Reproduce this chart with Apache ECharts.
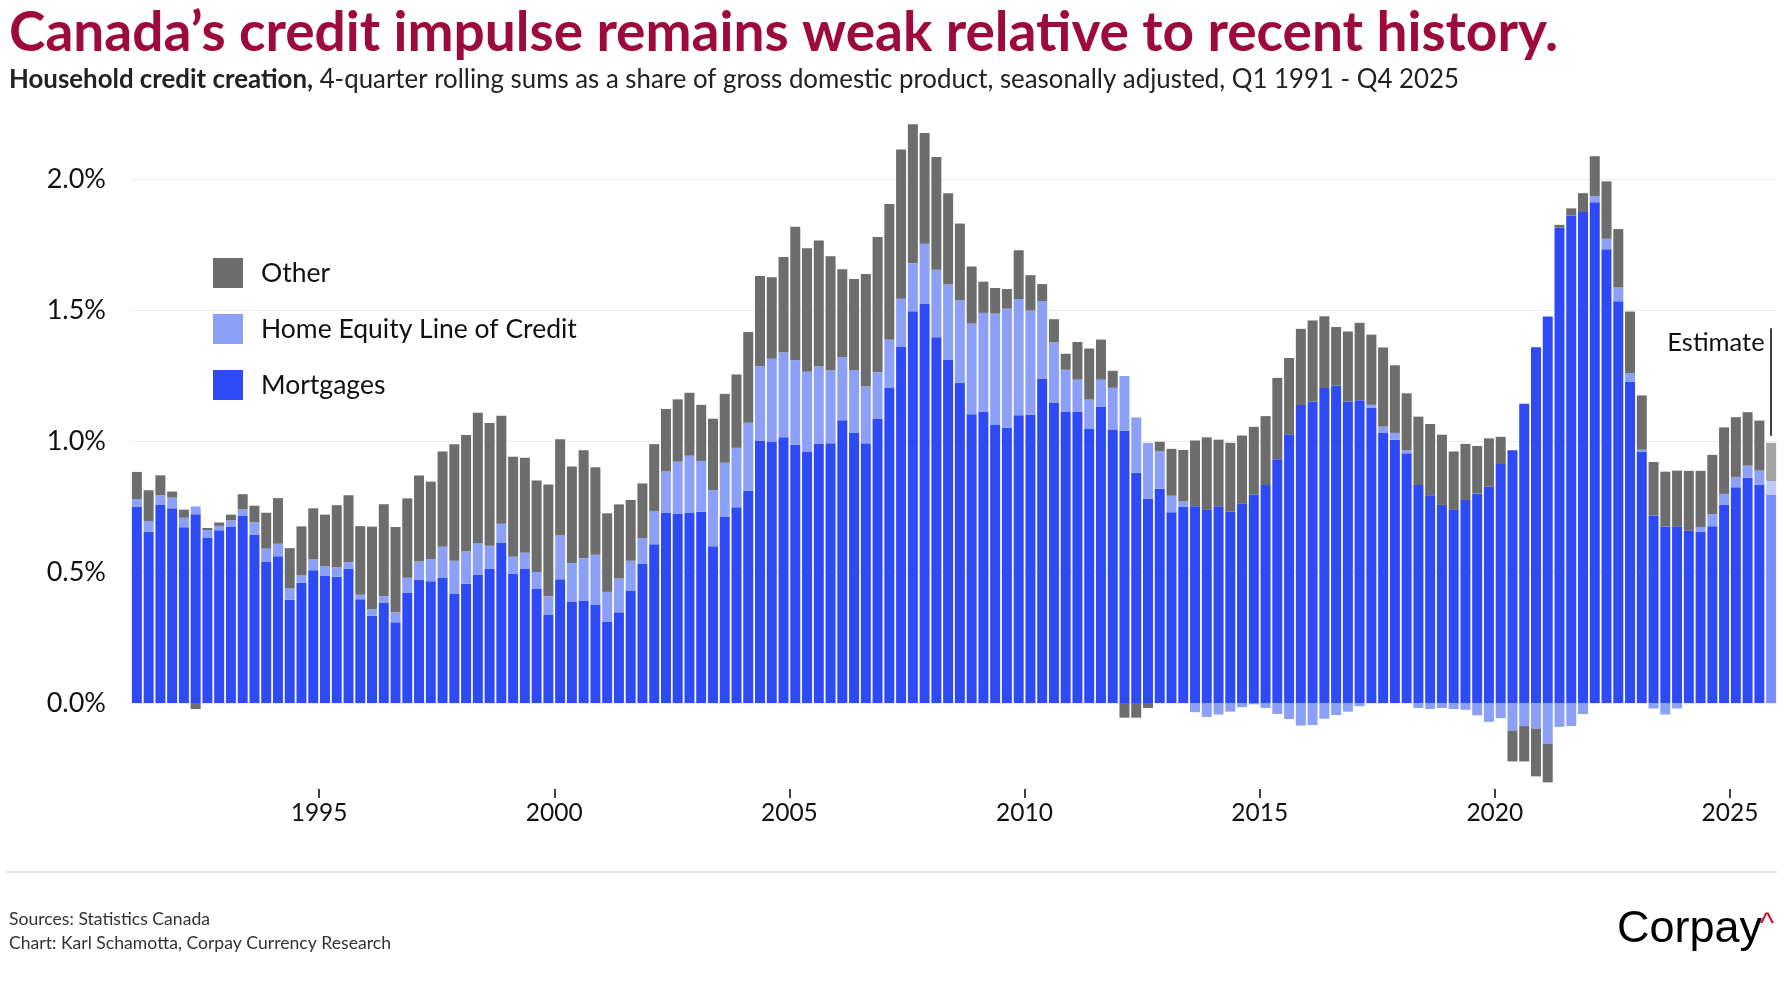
<!DOCTYPE html>
<html><head><meta charset="utf-8">
<script src="https://cdn.jsdelivr.net/npm/echarts@6/dist/echarts.min.js"></script>
<style>html,body{margin:0;padding:0;background:#fff}#c{width:1786px;height:1000px}</style>
</head><body><div id="c"></div>
<script>
// Quarterly categories, Q1 1991 - Q4 2025
const quarters = [];
for (let y = 1991; y <= 2025; y++) { for (let q = 1; q <= 4; q++) quarters.push(y + ' Q' + q); }

const tickYears = [1995, 2000, 2005, 2010, 2015, 2020, 2025];

const mortgages = [
0.750,0.654,0.758,0.743, 0.671,0.720,0.632,0.659, 0.674,0.714,0.642,0.538, 0.560,0.394,0.459,0.507,
0.487,0.482,0.512,0.396, 0.333,0.382,0.308,0.422, 0.469,0.465,0.477,0.416, 0.455,0.490,0.512,0.613,
0.493,0.513,0.435,0.336, 0.472,0.387,0.391,0.376, 0.311,0.346,0.429,0.531, 0.606,0.727,0.722,0.727,
0.730,0.598,0.712,0.747, 0.810,1.000,0.996,1.014, 0.986,0.960,0.989,0.991, 1.079,1.032,0.991,1.086,
1.202,1.361,1.495,1.523, 1.396,1.309,1.221,1.102, 1.112,1.061,1.051,1.098, 1.100,1.239,1.147,1.111,
1.111,1.046,1.130,1.042, 1.039,0.879,0.779,0.818, 0.728,0.749,0.751,0.737, 0.751,0.730,0.761,0.796,
0.832,0.930,1.026,1.137, 1.151,1.202,1.212,1.151, 1.156,1.126,1.032,1.005, 0.953,0.832,0.793,0.756,
0.737,0.775,0.800,0.826, 0.912,0.965,1.142,1.358, 1.475,1.814,1.860,1.874, 1.911,1.732,1.533,1.226,
0.960,0.716,0.674,0.675, 0.658,0.654,0.675,0.756, 0.823,0.860,0.833,0.796
];
const heloc = [
0.028,0.040,0.035,0.041, 0.036,0.030,0.028,0.017, 0.023,0.025,0.048,0.051, 0.048,0.043,0.028,0.041,
0.035,0.036,0.026,0.017, 0.025,0.026,0.038,0.056, 0.071,0.084,0.119,0.127, 0.124,0.121,0.088,0.071,
0.065,0.060,0.065,0.071, 0.167,0.147,0.162,0.190, 0.113,0.129,0.114,0.098, 0.127,0.157,0.199,0.217,
0.194,0.214,0.205,0.227, 0.260,0.286,0.318,0.325, 0.323,0.304,0.295,0.279, 0.242,0.239,0.218,0.177,
0.184,0.182,0.184,0.230, 0.258,0.288,0.316,0.346, 0.377,0.425,0.454,0.444, 0.398,0.295,0.230,0.161,
0.123,0.112,0.104,0.161, 0.209,0.211,0.214,0.144, 0.063,0.021,-0.035,-0.053, -0.044,-0.033,-0.016,-0.005,
-0.019,-0.042,-0.061,-0.086, -0.084,-0.060,-0.046,-0.033, -0.012,0.012,0.023,0.026, 0.011,-0.019,-0.023,-0.019,
-0.023,-0.026,-0.047,-0.072, -0.058,-0.105,-0.088,-0.098, -0.156,-0.091,-0.088,-0.042, 0.023,0.040,0.053,0.033,
0.007,-0.021,-0.044,-0.021, 0.000,0.018,0.046,0.042, 0.040,0.046,0.054,0.051
];
const other = [
0.104,0.118,0.076,0.023, 0.031,-0.023,0.008,0.013, 0.022,0.058,0.063,0.137, 0.174,0.154,0.187,0.195,
0.197,0.237,0.255,0.262, 0.315,0.351,0.326,0.303, 0.328,0.296,0.364,0.445, 0.444,0.497,0.469,0.412,
0.382,0.363,0.349,0.427, 0.368,0.369,0.412,0.334, 0.300,0.283,0.232,0.209, 0.255,0.238,0.238,0.240,
0.214,0.273,0.263,0.280, 0.346,0.344,0.311,0.363, 0.509,0.472,0.481,0.435, 0.335,0.347,0.428,0.516,
0.519,0.570,0.530,0.423, 0.430,0.349,0.293,0.218, 0.119,0.098,0.075,0.186, 0.135,0.065,0.088,0.061,
0.144,0.195,0.153,0.065, -0.056,-0.056,-0.019,0.035, 0.179,0.196,0.251,0.277, 0.254,0.263,0.260,0.258,
0.263,0.311,0.291,0.291, 0.309,0.274,0.223,0.267, 0.295,0.268,0.302,0.258, 0.218,0.261,0.272,0.268,
0.223,0.214,0.181,0.184, 0.104,-0.118,-0.135,-0.182, -0.147,0.011,0.028,0.072, 0.153,0.219,0.223,0.235,
0.207,0.204,0.209,0.212, 0.228,0.214,0.226,0.254, 0.228,0.204,0.191,0.146
];

const FONT = 'Lato';
const TITLE = 'Canada’s credit impulse remains weak relative to recent history.';
const SUB_B = 'Household credit creation,';
const SUB_R = ' 4-quarter rolling sums as a share of gross domestic product, seasonally adjusted, Q1 1991 - Q4 2025';
const SRC1 = 'Sources: Statistics Canada';
const SRC2 = 'Chart: Karl Schamotta, Corpay Currency Research';

// horizontal condensing factor so Lato matches the reference's condensed face widths
const mctx = document.createElement('canvas').getContext('2d');
function textW(t, font) { mctx.font = font; return mctx.measureText(t).width; }
const titleScale = 1549 / textW(TITLE, 'bold 55px Lato');
const subScale = 1450 / (textW(SUB_B, 'bold 27px Lato') + textW(SUB_R, '27px Lato'));
const srcScale = 382 / textW(SRC2, '18px Lato');

// last quarter is an estimate: lighter shade
function withEstimate(arr, estColor) {
  return arr.map((v, i) => i === arr.length - 1 ? { value: v, itemStyle: { color: estColor } } : v);
}
const lastCat = quarters[quarters.length - 1];

const chart = echarts.init(document.getElementById('c'));
chart.setOption({
  animation: false,
  backgroundColor: '#ffffff',
  grid: { left: 131, right: 9, top: 48, bottom: 166 },
  legend: {
    data: ['Other', 'Home Equity Line of Credit', 'Mortgages'],
    orient: 'vertical', left: 208, top: 253,
    icon: 'rect', itemWidth: 30, itemHeight: 30, itemGap: 26,
    textStyle: { fontFamily: FONT, fontSize: 26.5, color: '#111', padding: [0, 0, 0, 13] },
    selectedMode: false
  },
  xAxis: [
    { type: 'category', data: quarters, show: false, boundaryGap: true },
    { type: 'value', min: 1991, max: 2026, position: 'bottom', offset: -45,
      axisLine: { show: false }, splitLine: { show: false },
      axisTick: { show: true, length: 9, lineStyle: { color: '#000', width: 1.5 }, customValues: tickYears },
      axisLabel: { customValues: tickYears, fontFamily: FONT, fontSize: 24.5, color: '#111', margin: 12,
                   formatter: v => String(v) } }
  ],
  yAxis: {
    type: 'value', min: -0.5, max: 2.5, interval: 0.5,
    axisLine: { show: false }, axisTick: { show: false },
    splitLine: { show: true, showMinLine: false, showMaxLine: false, lineStyle: { color: '#ececec', width: 1 } },
    axisLabel: { showMinLabel: false, showMaxLabel: false, formatter: v => v.toFixed(1) + '%',
                 fontFamily: FONT, fontSize: 27, color: '#111', margin: 25 }
  },
  series: [
    { name: 'Mortgages', type: 'bar', stack: 'total', xAxisIndex: 0, barCategoryGap: '15%',
      itemStyle: { color: '#2e4af5' }, data: withEstimate(mortgages, '#7b8dfa') },
    { name: 'Home Equity Line of Credit', type: 'bar', stack: 'total', xAxisIndex: 0, barCategoryGap: '15%',
      itemStyle: { color: '#8ca0f8' }, data: withEstimate(heloc, '#bfcafd') },
    { name: 'Other', type: 'bar', stack: 'total', xAxisIndex: 0, barCategoryGap: '15%',
      itemStyle: { color: '#6d6d6d' }, data: withEstimate(other, '#a3a3a3'),
      markLine: { silent: true, symbol: ['none', 'none'], animation: false,
        lineStyle: { color: '#000', width: 1.5, type: 'solid' }, label: { show: false },
        data: [[{ coord: [lastCat, 1.02] }, { coord: [lastCat, 1.43] }]] },
      markPoint: { silent: true, animation: false,
        data: [{ coord: [lastCat, 1.375], symbol: 'circle', symbolSize: 1, itemStyle: { color: 'rgba(0,0,0,0)' },
                 label: { show: true, position: 'left', distance: 6, formatter: 'Estimate',
                          fontFamily: FONT, fontSize: 25.5, color: '#111' } }] }
    }
  ],
  graphic: [
    { type: 'text', x: 9, y: 33, scaleX: titleScale, style: { text: TITLE,
        fontFamily: FONT, fontWeight: 'bold', fontSize: 55, fill: '#9c0a3e', verticalAlign: 'middle', align: 'left' } },
    { type: 'text', x: 9, y: 79, scaleX: subScale, style: {
        text: '{b|' + SUB_B + '}' + SUB_R,
        fontFamily: FONT, fontSize: 27, fill: '#222', verticalAlign: 'middle', align: 'left',
        rich: { b: { fontFamily: FONT, fontSize: 27, fontWeight: 'bold', fill: '#222' } } } },
    { type: 'line', shape: { x1: 6, y1: 872, x2: 1777, y2: 872 }, style: { stroke: '#dddddd', lineWidth: 1.5 } },
    { type: 'text', x: 9, y: 919, scaleX: srcScale, style: { text: SRC1, fontFamily: FONT, fontSize: 18,
        fill: '#333', verticalAlign: 'middle' } },
    { type: 'text', x: 9, y: 943, scaleX: srcScale, style: { text: SRC2, fontFamily: FONT,
        fontSize: 18, fill: '#333', verticalAlign: 'middle' } },
    { type: 'text', x: 1617, y: 930, style: { text: 'Corpay', fontFamily: '"Liberation Sans"', fontSize: 45,
        fill: '#000', verticalAlign: 'middle' } },
    { type: 'text', x: 1760, y: 925, style: { text: '^', fontFamily: '"Liberation Sans"', fontSize: 30,
        fill: '#c8102e', verticalAlign: 'middle' } }
  ]
});
</script></body></html>
